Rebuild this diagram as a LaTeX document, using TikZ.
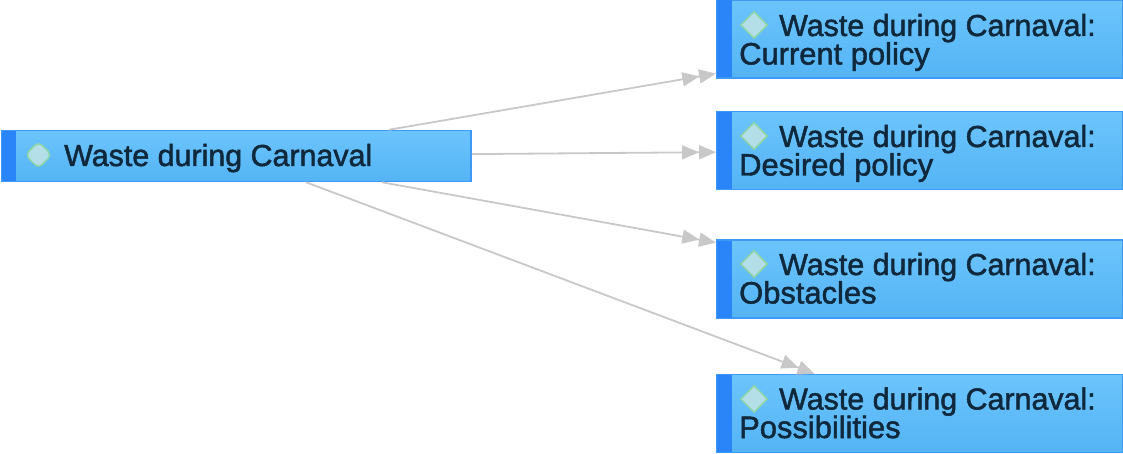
\documentclass[tikz,border=0pt]{standalone}
\usepackage{fontspec}
\setmainfont{Liberation Sans}
\newfontfamily\labelfont[FakeBold=1.6]{Liberation Sans}
\usetikzlibrary{arrows.meta,shapes.geometric}
\definecolor{edgegray}{HTML}{C8C8C8}
\definecolor{boxtop}{HTML}{6CC4FC}
\definecolor{boxbot}{HTML}{54B4F4}
\definecolor{boxline}{HTML}{3F98F6}
\definecolor{stripblue}{HTML}{2A86F8}
\definecolor{icofill}{HTML}{B4DEE8}
\definecolor{icoline}{HTML}{8ED6A8}
\definecolor{txt}{HTML}{10283C}
\tikzset{
  x=1pt,y=-1pt,
  topic/.style={draw=boxline,line width=1.5pt,top color=boxtop,bottom color=boxbot,inner sep=0pt,minimum width=406pt,minimum height=78pt},
  mainbox/.style={topic,minimum width=469pt,minimum height=51pt},
  strip/.style={fill=stripblue},
  icon/.style={diamond,draw=icoline,fill=icofill,line width=1.5pt,inner sep=0pt,minimum width=27pt,minimum height=27pt},
  label/.style={text=txt,anchor=base west,inner sep=0pt,font=\labelfont\fontsize{30.4}{30}\selectfont,align=left},
  sublabel/.style={label,font=\labelfont\fontsize{30.9}{30}\selectfont},
  link/.style={draw=edgegray,line width=1.8pt,-{Triangle[length=17pt,width=14pt] Triangle[length=17pt,width=14pt]}}
}
\begin{document}
\begin{tikzpicture}
\useasboundingbox (0,0) rectangle (1123,454);
\node[mainbox] (main) at (236.5,156) {};
\node[topic] (t1) at (919.8,39) {};
\node[topic] (t2) at (919.8,150.5) {};
\node[topic] (t3) at (919.8,279) {};
\node[topic] (t4) at (919.8,413.5) {};
\fill[strip] (2,131) rectangle (16,181);
\fill[strip] (717,0) rectangle (732,77.5);
\fill[strip] (717,112) rectangle (732,189);
\fill[strip] (717,241) rectangle (732,317.5);
\fill[strip] (717,375) rectangle (732,452);
\node[icon,rounded corners=5pt] (i0) at (38.5,155) {};
\node[icon] (i1) at (754,25) {};
\node[icon] (i2) at (754,136) {};
\node[icon] (i3) at (754,264) {};
\node[icon] (i4) at (754,399) {};
\node[label] (l0) at (64,166) {Waste during Carnaval};
\node[label] (l1) at (779,36) {Waste during Carnaval:};
\node[sublabel] (m1) at (739,64.5) {Current policy};
\node[label] (l2) at (779,147) {Waste during Carnaval:};
\node[sublabel] (m2) at (739,175.5) {Desired policy};
\node[label] (l3) at (779,275) {Waste during Carnaval:};
\node[sublabel] (m3) at (739,303.5) {Obstacles};
\node[label] (l4) at (779,409.5) {Waste during Carnaval:};
\node[sublabel] (m4) at (739,438) {Possibilities};
\draw[link] (main) -- (t1);
\draw[link] (main) -- (t2);
\draw[link] (main) -- (t3);
\draw[link] (main) -- (t4);
\end{tikzpicture}
\end{document}
